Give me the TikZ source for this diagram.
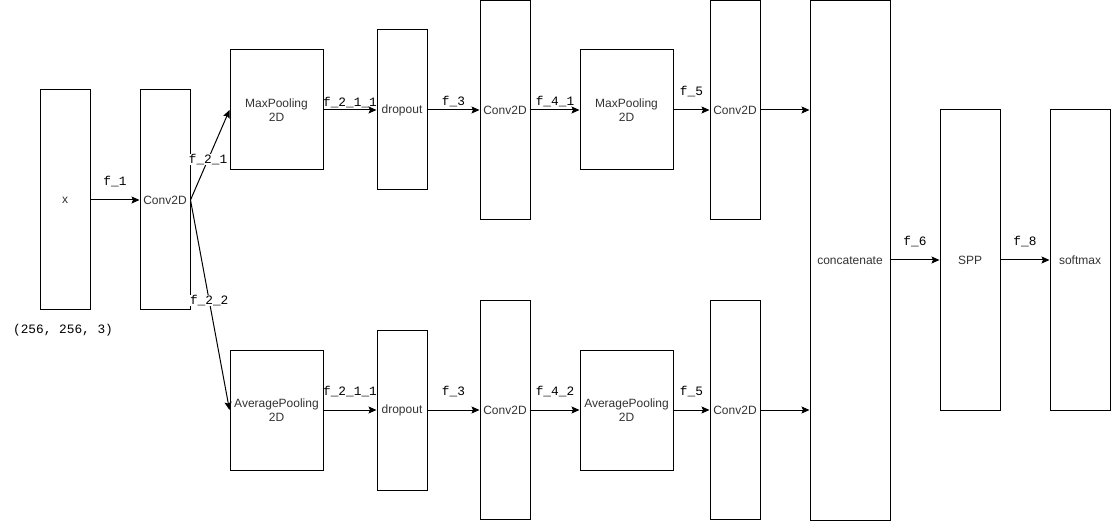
\documentclass[tikz,border=0pt]{standalone}
\usepackage{fontspec}
\setmainfont{Liberation Sans}
\setmonofont{Liberation Mono}
\usetikzlibrary{arrows.meta}

\begin{document}
\begin{tikzpicture}[x=1pt, y=-1pt,
  every node/.style={font=\fontsize{12}{14}\selectfont, text=black!80},
  layer/.style={draw=black, line width=1pt, fill=white, minimum width=50pt,
                inner sep=1pt, align=center},
  pool/.style={layer, minimum width=93pt, minimum height=120pt},
  lbl/.style={font=\ttfamily\fontsize{12.8}{14}\selectfont, text=black, inner sep=0pt},
  arrow/.style={-{Stealth[length=8pt, width=7pt, inset=1.5pt]}, line width=1pt, draw=black}
]
\useasboundingbox (0,0) rectangle (1111,521);
% input and first convolution
\node[layer, minimum height=220pt] (x) at (65,200) {x};
\node[lbl] (shape) at (63,330) {(256, 256, 3)};
\node[layer, minimum height=220pt] (conv1) at (165,200) {Conv2D};
% upper branch
\node[pool] (maxA) at (276.5,110) {MaxPooling\\2D};
\node[layer, minimum height=160pt] (dropA) at (402,110) {dropout};
\node[layer, minimum height=219pt] (conv2A) at (505,110) {Conv2D};
\node[pool] (maxB) at (626.5,110) {MaxPooling\\2D};
\node[layer, minimum height=219pt] (conv3A) at (735,110) {Conv2D};
% lower branch
\node[pool] (avgA) at (276.5,410) {AveragePooling\\2D};
\node[layer, minimum height=160pt] (dropB) at (402,410) {dropout};
\node[layer, minimum height=219pt] (conv2B) at (505,410) {Conv2D};
\node[pool] (avgB) at (626.5,410) {AveragePooling\\2D};
\node[layer, minimum height=219pt] (conv3B) at (735,410) {Conv2D};
% head
\node[layer, minimum width=80pt, minimum height=519pt] (concat) at (850,260.5) {concatenate};
\node[layer, minimum width=60pt, minimum height=300pt] (spp) at (970,260) {SPP};
\node[layer, minimum width=60pt, minimum height=300pt] (soft) at (1080,260) {softmax};

\draw[arrow] (x) -- node[lbl, above=13pt] (f1) {f\_1} (conv1);
\draw[arrow] (conv1.east) -- node[lbl, fill=white, pos=0.45] (f21) {f\_2\_1} (maxA.west);
\draw[arrow] (conv1.east) -- node[lbl, fill=white, pos=0.48] (f22) {f\_2\_2} (avgA.west);

\draw[arrow] (maxA) -- node[lbl, above=2pt] (f211a) {f\_2\_1\_1} (dropA);
\draw[arrow] (dropA) -- node[lbl, above=3pt] (f3a) {f\_3} (conv2A);
\draw[arrow] (conv2A) -- node[lbl, above=3pt] (f41) {f\_4\_1} (maxB);
\draw[arrow] (maxB) -- node[lbl, above=13pt] (f5a) {f\_5} (conv3A);
\draw[arrow] (conv3A.east) -- (conv3A.east -| concat.west);

\draw[arrow] (avgA) -- node[lbl, above=13pt] (f211b) {f\_2\_1\_1} (dropB);
\draw[arrow] (dropB) -- node[lbl, above=13pt] (f3b) {f\_3} (conv2B);
\draw[arrow] (conv2B) -- node[lbl, above=13pt] (f42) {f\_4\_2} (avgB);
\draw[arrow] (avgB) -- node[lbl, above=13pt] (f5b) {f\_5} (conv3B);
\draw[arrow] (conv3B.east) -- (conv3B.east -| concat.west);

\draw[arrow] (concat.east |- spp) -- node[lbl, above=13pt] (f6) {f\_6} (spp);
\draw[arrow] (spp) -- node[lbl, above=13pt] (f8) {f\_8} (soft);
\end{tikzpicture}
\end{document}
